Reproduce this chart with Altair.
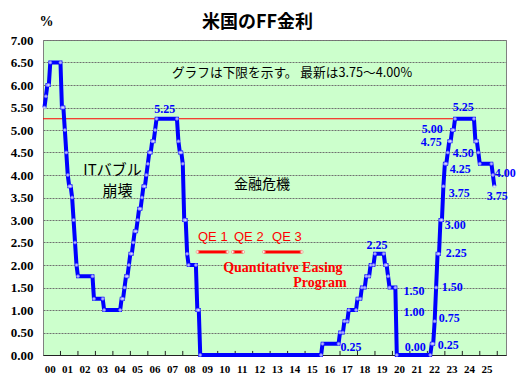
import altair as alt
import pandas as pd

# Month-end lower bound of the FF target range (only months where it changed)
change_months = [
    "2000-01", "2000-02", "2000-03", "2000-05", "2001-01", "2001-03", "2001-04", "2001-05",
    "2001-06", "2001-08", "2001-09", "2001-10", "2001-11", "2001-12", "2002-11", "2003-06",
    "2004-06", "2004-08", "2004-09", "2004-11", "2004-12", "2005-02", "2005-03", "2005-05",
    "2005-06", "2005-08", "2005-09", "2005-11", "2005-12", "2006-01", "2006-03", "2006-05",
    "2006-06", "2007-09", "2007-10", "2007-12", "2008-01", "2008-03", "2008-04", "2008-10",
    "2008-12", "2015-12", "2016-12", "2017-03", "2017-06", "2017-12", "2018-03", "2018-06",
    "2018-09", "2018-12", "2019-07", "2019-09", "2019-10", "2020-03", "2022-03", "2022-05",
    "2022-06", "2022-07", "2022-09", "2022-11", "2022-12", "2023-02", "2023-03", "2023-05",
    "2023-07", "2024-09", "2024-11", "2024-12", "2025-09", "2025-10",
]
change_rates = [
    5.50, 5.75, 6.00, 6.50, 5.50, 5.00, 4.50, 4.00,
    3.75, 3.50, 3.00, 2.50, 2.00, 1.75, 1.25, 1.00,
    1.25, 1.50, 1.75, 2.00, 2.25, 2.50, 2.75, 3.00,
    3.25, 3.50, 3.75, 4.00, 4.25, 4.50, 4.75, 5.00,
    5.25, 4.75, 4.50, 4.25, 3.00, 2.25, 2.00, 1.00,
    0.00, 0.25, 0.50, 0.75, 1.00, 1.25, 1.50, 1.75,
    2.00, 2.25, 2.00, 1.75, 1.50, 0.00, 0.25, 0.75,
    1.50, 2.25, 3.00, 3.75, 4.25, 4.50, 4.75, 5.00,
    5.25, 4.75, 4.50, 4.25, 4.00, 3.75,
]
last_month = "2025-10"

year_labels = ["00", "01", "02", "03", "04", "05", "06", "07", "08", "09", "10", "11", "12",
               "13", "14", "15", "16", "17", "18", "19", "20", "21", "22", "23", "24", "25"]
y_ticks = [0, 0.5, 1, 1.5, 2, 2.5, 3, 3.5, 4, 4.5, 5, 5.5, 6, 6.5, 7]

# QE periods (in years since 2000)
qe_names = ["QE 1", "QE 2", "QE 3"]
qe_start = [8.85, 10.87, 12.65]
qe_end = [10.55, 11.45, 14.8]
qe_level = 2.29
qe_label_t = [9.72, 11.78, 13.96]
qe_label_v = 2.62

ref_level = 5.25
ref_end = 23.5

# value labels (blue)
val_text = ["5.25", "5.25", "5.00", "4.75", "4.50", "4.25", "4.00", "3.75", "3.75", "3.00",
            "2.25", "1.50", "0.75", "0.25", "0.00", "1.00", "1.50", "0.25", "2.25"]
val_t = [6.97, 24.05, 22.28, 22.22, 24.05, 23.88, 26.46, 26.0, 23.82, 23.59,
         23.65, 23.42, 23.25, 23.19, 21.30, 21.24, 21.24, 17.63, 19.12]
val_v = [5.47, 5.51, 5.02, 4.74, 4.49, 4.13, 4.04, 3.53, 3.60, 2.89,
         2.27, 1.51, 0.82, 0.22, 0.18, 0.96, 1.42, 0.18, 2.44]

note_text = ["ITバブル", "崩壊", "金融危機", "グラフは下限を示す。 最新は3.75～4.00%"]
note_t = [3.98, 4.27, 12.53, 14.25]
note_v = [4.11, 3.64, 3.78, 6.27]
note_size = [15, 15, 14, 12.7]

qe_prog_text = ["Quantitative Easing", "Program"]
qe_prog_t = [13.73, 15.85]
qe_prog_v = [1.93, 1.60]

# ---- build tables ----
def month_to_t(m):
    y, mo = m.split("-")
    return (int(y) - 2000) + int(mo) / 12.0

months = []
y0, m0 = 2000, 1
ly, lm = map(int, last_month.split("-"))
while (y0, m0) <= (ly, lm):
    months.append(f"{y0:04d}-{m0:02d}")
    m0 += 1
    if m0 > 12:
        m0 = 1
        y0 += 1

changes = dict(zip(change_months, change_rates))
vals = []
cur = change_rates[0]
for m in months:
    if m in changes:
        cur = changes[m]
    vals.append(cur)

line_df = pd.DataFrame({"t": [month_to_t(m) for m in months], "rate": vals})
mark_idx = set([0, len(vals) - 1])
for i in range(1, len(vals)):
    if vals[i] != vals[i - 1]:
        mark_idx.add(i)
        mark_idx.add(i - 1)
pts_df = line_df.iloc[sorted(mark_idx)]

x_scale = alt.Scale(domain=[0, 26.5], nice=False, zero=False)
y_scale = alt.Scale(domain=[0, 7], nice=False, zero=True)

label_vals = [i + 0.38 for i in range(len(year_labels))]
label_expr = "[" + ",".join(f"'{s}'" for s in year_labels) + "][floor(datum.value)]"

x_axis = alt.Axis(values=label_vals, labelExpr=label_expr, ticks=False, grid=False,
                  domainColor="#222222", domainWidth=1, labelFont="Liberation Serif",
                  labelFontWeight="bold", labelFontSize=11, labelColor="#000000",
                  labelPadding=8, labelOverlap=False, labelBound=False, labelFlush=False,
                  title=None)
y_axis = alt.Axis(values=y_ticks, format=".2f", ticks=False, domain=False, grid=True,
                  gridColor="#707070", gridDash=[2, 1], gridWidth=1,
                  labelFont="Liberation Serif", labelFontWeight="bold", labelFontSize=13,
                  labelColor="#000000", labelPadding=10, labelOverlap=False,
                  title="%", titleAngle=0, titleX=3, titleY=-19, titleAlign="center",
                  titleBaseline="middle", titleFont="Liberation Serif", titleFontSize=14,
                  titleFontWeight="bold", titleColor="#000000")


def X(field):
    return alt.X(f"{field}:Q", scale=x_scale, axis=x_axis)


def Y(field):
    return alt.Y(f"{field}:Q", scale=y_scale, axis=y_axis)


line = alt.Chart(line_df).mark_line(color="#0000FF", strokeWidth=4).encode(
    x=X("t"), y=Y("rate"))
pts = alt.Chart(pts_df).mark_point(filled=True, color="#FFFFFF", size=9, stroke="#9999FF",
                                   strokeWidth=0.7).encode(x=X("t"), y=Y("rate"))

ref_df = pd.DataFrame({"t": [0], "t2": [ref_end], "v": [ref_level]})
ref_line = alt.Chart(ref_df).mark_rule(color="#FF0000", strokeWidth=1.2).encode(
    x=X("t"), x2="t2:Q", y=Y("v"))

qe_df = pd.DataFrame({"name": qe_names, "t": qe_start, "t2": qe_end,
                      "v": [qe_level] * 3, "lt": qe_label_t, "lv": [qe_label_v] * 3})
qe_lines = alt.Chart(qe_df).mark_rule(color="#FF0000", strokeWidth=3).encode(
    x=X("t"), x2="t2:Q", y=Y("v"))
qe_ends = pd.DataFrame({"t": qe_start + qe_end, "v": [qe_level] * 6})
qe_pts = alt.Chart(qe_ends).mark_point(filled=True, color="#FFFFFF", size=10,
                                       stroke="#FF6666", strokeWidth=0.7).encode(
    x=X("t"), y=Y("v"))
qe_text = alt.Chart(qe_df).mark_text(color="#FF0000", font="Liberation Sans", fontSize=13,
                                     baseline="middle").encode(
    x=X("lt"), y=Y("lv"), text="name:N")

prog_df = pd.DataFrame({"txt": qe_prog_text, "t": qe_prog_t, "v": qe_prog_v})
prog_text = alt.Chart(prog_df).mark_text(color="#FF0000", font="Liberation Serif",
                                         fontWeight="bold", fontSize=14,
                                         baseline="middle").encode(
    x=X("t"), y=Y("v"), text="txt:N")

val_df = pd.DataFrame({"txt": val_text, "t": val_t, "v": val_v})
val_labels = alt.Chart(val_df).mark_text(color="#0000FF", font="Liberation Serif",
                                         fontWeight="bold", fontSize=12,
                                         baseline="middle").encode(
    x=X("t"), y=Y("v"), text="txt:N")

note_df = pd.DataFrame({"txt": note_text, "t": note_t, "v": note_v, "fs": note_size})
notes = alt.Chart(note_df).mark_text(color="#000000", font="Noto Sans CJK JP",
                                     baseline="middle").encode(
    x=X("t"), y=Y("v"), text="txt:N",
    size=alt.Size("fs:Q", scale=None, legend=None))

tick_df = pd.DataFrame({"t": list(range(1, 27)), "v": [0] * 26, "v2": [0.09] * 26})
ticks = alt.Chart(tick_df).mark_rule(color="#222222", strokeWidth=1).encode(
    x=X("t"), y=Y("v"), y2="v2:Q")

chart = alt.layer(
    ref_line, qe_lines, qe_pts, ticks, line, pts, val_labels, notes, qe_text, prog_text
).properties(
    width=463, height=315,
    title=alt.TitleParams("米国のFF金利", anchor="start", frame="group", dx=159, dy=18,
                          fontSize=18, font="Noto Sans CJK JP", fontWeight="bold",
                          color="#000000", offset=0),
    autosize=alt.AutoSizeParams(type="none"),
    padding={"left": 35, "top": 32, "right": 15, "bottom": 25},
    background="#FFFFFF",
).configure_view(
    fill="#CCFFCC", stroke="#808080", strokeWidth=1
).configure_axisX(
    labelOverlap=False
)

chart.save("out.html", embed_options={"renderer": "svg", "actions": False})
